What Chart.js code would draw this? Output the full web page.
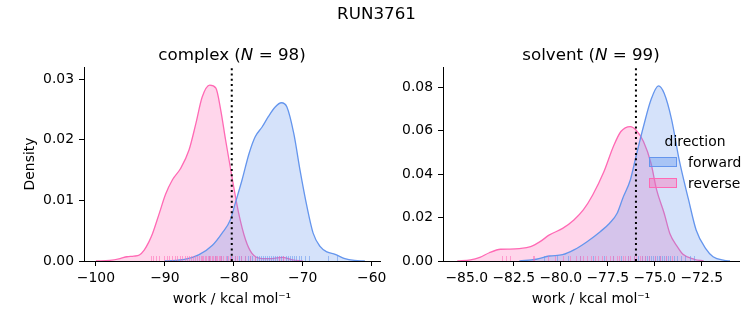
<!DOCTYPE html>
<html>
<head>
<meta charset="utf-8">
<title>RUN3761</title>
<script src="https://cdn.jsdelivr.net/npm/chart.js@4"></script>
<style>
  body { margin: 0; background: #fff; }
  #wrap { position: relative; width: 753px; height: 325px; }
  canvas { position: absolute; left: 0; top: 0; }
</style>
</head>
<body>
<div id="wrap">
  <canvas id="complexChart" width="753" height="325"></canvas>
  <canvas id="solventChart" width="753" height="325"></canvas>
</div>
<script>
// Figure title and panel info
const runName = 'RUN3761';
const complexN = 98;
const solventN = 99;
const complexMarker = -80.3;
const solventMarker = -76.0;

// Complex KDE curves
const complexForwardX = [-90, -87, -85.1, -83.1, -81.7, -80.5, -79.8, -78.8, -77.8, -76.9, -75.9, -75, -74, -73.1, -72.3, -71.3, -70.4, -69.4, -68.5, -67.5, -66.5, -65.3, -63.9, -62.5, -61];
const complexForwardY = [0, 0.0003, 0.001, 0.0026, 0.0046, 0.0068, 0.0095, 0.0134, 0.0177, 0.0205, 0.0221, 0.0238, 0.0254, 0.0261, 0.0254, 0.021, 0.015, 0.009, 0.0046, 0.0024, 0.0015, 0.0011, 0.0004, 0.0001, 0];
const complexReverseX = [-100, -98, -96.5, -95.5, -94.5, -93.7, -93, -92.3, -91.8, -90.8, -89.9, -88.9, -87.7, -86.5, -85.5, -84.6, -83.5, -82.6, -81.9, -81.2, -80.2, -79.3, -78.3, -77.4, -75.9, -74.5, -73, -71.5, -70];
const complexReverseY = [0, 0.0001, 0.0004, 0.0007, 0.0008, 0.001, 0.0018, 0.0032, 0.0045, 0.0079, 0.011, 0.0134, 0.0153, 0.0183, 0.0227, 0.027, 0.029, 0.0285, 0.0249, 0.02, 0.0134, 0.0079, 0.0035, 0.0013, 0.0004, 0.0004, 0.0006, 0.0002, 0];

// Solvent KDE curves
const solventForwardX = [-82.2, -81.3, -80.6, -79.9, -79.3, -78.6, -77.9, -77.4, -77, -76.7, -76.3, -76, -75.6, -75.2, -74.8, -74.5, -74.1, -73.7, -73.2, -72.8, -72.3, -71.9, -71.3, -71];
const solventForwardY = [0, 0.0008, 0.0023, 0.0029, 0.0051, 0.0089, 0.0135, 0.0174, 0.022, 0.0289, 0.0373, 0.048, 0.0619, 0.0742, 0.0806, 0.0772, 0.065, 0.0465, 0.0281, 0.0143, 0.0058, 0.002, 0.0003, 0];
const solventReverseX = [-85.5, -84.8, -84.3, -83.8, -83.2, -82.7, -82.2, -81.6, -81.1, -80.6, -79.9, -79.3, -78.8, -78.3, -77.7, -77.2, -76.8, -76.3, -76, -75.6, -75.2, -74.9, -74.5, -74.2, -73.8, -73.5, -72.9, -72.4];
const solventReverseY = [0, 0.0005, 0.0017, 0.0038, 0.0054, 0.0055, 0.0057, 0.0066, 0.0089, 0.012, 0.015, 0.0189, 0.0235, 0.0304, 0.0412, 0.0527, 0.0596, 0.0619, 0.0603, 0.055, 0.045, 0.0327, 0.022, 0.0127, 0.0066, 0.0031, 0.0008, 0];

// Rug samples
const complexForwardRug = [-83.6, -82.8, -81.9, -81.0, -80.4, -79.8, -79.3, -78.9, -78.4, -78.0, -77.6, -77.3, -77.0, -76.7, -76.4, -76.1, -75.8, -75.5, -75.2, -74.9, -74.6, -74.3, -74.0, -73.7, -73.4, -73.1, -72.8, -72.5, -72.2, -71.9, -71.6, -71.3, -71.0, -70.6, -70.2, -69.7, -69.1, -66.4, -65.1];
const complexReverseRug = [-92.0, -91.7, -91.3, -90.9, -90.1, -89.7, -89.4, -88.9, -88.5, -88.2, -87.8, -87.5, -87.1, -86.8, -86.5, -86.2, -85.9, -85.6, -85.3, -85.1, -84.8, -84.6, -84.4, -84.2, -84.0, -83.8, -83.6, -83.4, -83.2, -83.0, -82.8, -82.6, -82.4, -82.2, -82.0, -81.8, -81.5, -81.2, -80.9, -80.6, -80.3, -79.9, -79.5, -79.0, -78.4, -77.6, -76.9, -73.5, -72.8];
const solventForwardRug = [-80.9, -80.2, -79.6, -79.0, -78.3, -77.7, -77.2, -76.8, -76.4, -76.1, -75.9, -75.7, -75.5, -75.4, -75.3, -75.2, -75.1, -75.0, -74.9, -74.8, -74.7, -74.6, -74.5, -74.4, -74.3, -74.2, -74.0, -73.8, -73.6, -73.4, -73.1, -72.9];
const solventReverseRug = [-83.1, -82.9, -82.7, -81.5, -81.4, -80.7, -80.3, -79.9, -79.5, -79.2, -79.0, -78.8, -78.6, -78.4, -78.2, -78.0, -77.8, -77.6, -77.4, -77.2, -77.0, -76.9, -76.7, -76.6, -76.4, -76.3, -76.1, -76.0, -75.8, -75.7, -75.5, -75.3, -75.0, -74.7, -74.4, -74.1];

// Axis ticks
const complexXTicks = [-100, -90, -80, -70, -60];
const complexYTicks = [0, 0.01, 0.02, 0.03];
const solventXTicks = [-85, -82.5, -80, -77.5, -75, -72.5];
const solventYTicks = [0, 0.02, 0.04, 0.06, 0.08];
const directions = ['forward', 'reverse'];

const blue = '#6495ED';
const pink = '#FF69B4';
const fontFamily = '"DejaVu Sans", sans-serif';

function fmt(v, digits) {
    return (v < 0 ? '\u2212' : '') + Math.abs(v).toFixed(digits);
}

function toPoints(xs, ys) {
    return xs.map((x, i) => ({ x: x, y: ys[i] }));
}

function kdeDataset(label, xs, ys, color, alpha) {
    return {
        label: label,
        data: toPoints(xs, ys),
        borderColor: color,
        borderWidth: 1.3,
        backgroundColor: Chart.helpers.color(color).alpha(alpha).rgbString(),
        fill: 'origin',
        pointRadius: 0,
        cubicInterpolationMode: 'monotone'
    };
}

// extra drawing: titles, rug, dotted marker, legend
function makeExtras(opts) {
    return {
        id: 'extras_' + opts.name,
        afterDatasetsDraw(chart) {
            const ctx = chart.ctx;
            const area = chart.chartArea;
            const xs = chart.scales.x;
            ctx.save();
            // rug
            opts.rugs.forEach(r => {
                ctx.strokeStyle = Chart.helpers.color(r.color).alpha(0.55).rgbString();
                ctx.lineWidth = 1;
                r.values.forEach(v => {
                    const px = Math.round(xs.getPixelForValue(v)) + 0.5;
                    ctx.beginPath();
                    ctx.moveTo(px, area.bottom);
                    ctx.lineTo(px, area.bottom - 5);
                    ctx.stroke();
                });
            });
            // dotted marker
            const mx = xs.getPixelForValue(opts.marker);
            ctx.strokeStyle = '#000';
            ctx.lineWidth = 2;
            ctx.setLineDash([2, 3.3]);
            ctx.beginPath();
            ctx.moveTo(mx, area.bottom);
            ctx.lineTo(mx, area.top);
            ctx.stroke();
            ctx.setLineDash([]);
            ctx.restore();
        },
        afterDraw(chart) {
            const ctx = chart.ctx;
            const area = chart.chartArea;
            ctx.save();
            ctx.fillStyle = '#000';
            ctx.textBaseline = 'alphabetic';
            // panel title with italic N
            const size = 16.7;
            let total = 0;
            opts.title.forEach(p => {
                ctx.font = (p.italic ? 'oblique ' : '') + size + 'px ' + fontFamily;
                p.w = ctx.measureText(p.text).width;
                total += p.w;
            });
            let x = (area.left + area.right) / 2 - total / 2;
            opts.title.forEach(p => {
                ctx.font = (p.italic ? 'oblique ' : '') + size + 'px ' + fontFamily;
                ctx.textAlign = 'left';
                ctx.fillText(p.text, x, 59.5);
                x += p.w;
            });
            // figure title
            if (opts.mainTitle) {
                ctx.font = size + 'px ' + fontFamily;
                ctx.textAlign = 'center';
                ctx.fillText(opts.mainTitle, 376.5, 19);
            }
            // legend
            if (opts.legend) {
                ctx.font = '13.9px ' + fontFamily;
                ctx.textAlign = 'center';
                ctx.fillText('direction', 695, 146);
                ctx.textAlign = 'left';
                opts.legend.forEach((item, i) => {
                    const y = 157 + i * 21;
                    ctx.fillStyle = Chart.helpers.color(item.color).alpha(0.4).rgbString();
                    ctx.fillRect(649, y, 28, 10);
                    ctx.strokeStyle = item.color;
                    ctx.lineWidth = 1;
                    ctx.strokeRect(649.5, y + 0.5, 27, 9);
                    ctx.fillStyle = '#000';
                    ctx.fillText(item.label, 688, y + 10);
                });
            }
            ctx.restore();
        }
    };
}

function makeOptions(cfg) {
    const tickFont = { family: fontFamily, size: 13.9 };
    return {
        responsive: false,
        animation: false,
        events: [],
        layout: { padding: cfg.padding },
        plugins: {
            legend: { display: false },
            tooltip: { enabled: false },
            title: { display: false }
        },
        scales: {
            x: {
                type: 'linear',
                min: cfg.xMin,
                max: cfg.xMax,
                afterBuildTicks: s => { s.ticks = cfg.xTicks.map(v => ({ value: v })); },
                afterFit: s => { s.height = 64; },
                ticks: { callback: v => fmt(v, cfg.xDigits), font: tickFont, color: '#000', padding: 4, maxRotation: 0, autoSkip: false },
                grid: { drawOnChartArea: false, tickLength: 5, color: '#000' },
                border: { color: '#000', width: 1 },
                title: { display: true, text: 'work / kcal mol\u207B\u00B9', font: tickFont, color: '#000', padding: { top: 0, bottom: 17 } }
            },
            y: {
                min: 0,
                max: cfg.yMax,
                afterBuildTicks: s => { s.ticks = cfg.yTicks.map(v => ({ value: v })); },
                afterFit: s => { s.width = 84; },
                ticks: { callback: v => fmt(v, 2), font: tickFont, color: '#000', padding: 5 },
                grid: { drawOnChartArea: false, tickLength: 5, color: '#000' },
                border: { color: '#000', width: 1 },
                title: { display: cfg.yTitle, text: 'Density', font: tickFont, color: '#000', padding: { top: 22, bottom: 0 } }
            }
        }
    };
}

document.addEventListener('DOMContentLoaded', function () {
    Chart.defaults.font.family = fontFamily;
    Chart.defaults.color = '#000';

    const complexCtx = document.getElementById('complexChart').getContext('2d');
    const solventCtx = document.getElementById('solventChart').getContext('2d');

    new Chart(complexCtx, {
        type: 'line',
        data: {
            datasets: [
                kdeDataset(directions[0], complexForwardX, complexForwardY, blue, 0.27),
                kdeDataset(directions[1], complexReverseX, complexReverseY, pink, 0.27)
            ]
        },
        options: makeOptions({
            padding: { left: 0, right: 373, top: 67, bottom: 0 },
            xMin: -101.73, xMax: -58.8, xTicks: complexXTicks, xDigits: 0,
            yMax: 0.032, yTicks: complexYTicks, yTitle: true
        }),
        plugins: [makeExtras({
            name: 'complex',
            mainTitle: runName,
            title: [{ text: 'complex (' }, { text: 'N', italic: true }, { text: ' = ' + complexN + ')' }],
            marker: complexMarker,
            rugs: [{ values: complexForwardRug, color: blue }, { values: complexReverseRug, color: pink }]
        })]
    });

    new Chart(solventCtx, {
        type: 'line',
        data: {
            datasets: [
                kdeDataset(directions[0], solventForwardX, solventForwardY, blue, 0.27),
                kdeDataset(directions[1], solventReverseX, solventReverseY, pink, 0.27)
            ]
        },
        options: makeOptions({
            padding: { left: 359, right: 14, top: 67, bottom: 0 },
            xMin: -86.26, xMax: -70.52, xTicks: solventXTicks, xDigits: 1,
            yMax: 0.0893, yTicks: solventYTicks, yTitle: false
        }),
        plugins: [makeExtras({
            name: 'solvent',
            title: [{ text: 'solvent (' }, { text: 'N', italic: true }, { text: ' = ' + solventN + ')' }],
            marker: solventMarker,
            rugs: [{ values: solventForwardRug, color: blue }, { values: solventReverseRug, color: pink }],
            legend: [{ label: directions[0], color: blue }, { label: directions[1], color: pink }]
        })]
    });
});
</script>
</body>
</html>
